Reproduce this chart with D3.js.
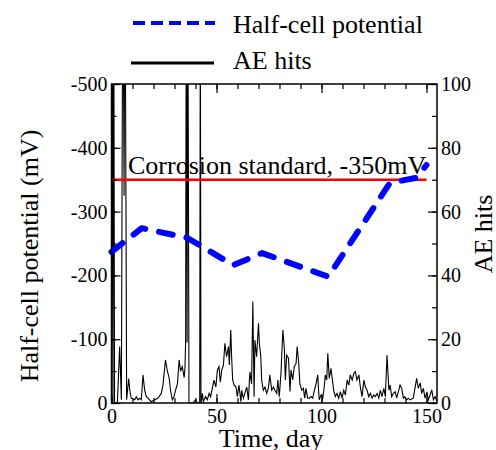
<!DOCTYPE html>
<html>
<head>
<meta charset="utf-8">
<script src="https://cdn.jsdelivr.net/npm/d3@7/dist/d3.min.js"></script>
<style>
  body { margin: 0; background: #fff; }
  text { font-family: "Liberation Serif", "Times New Roman", serif; fill: #000; }
</style>
</head>
<body>
<div id="chart"></div>
<script>
// half-cell potential readings (day, mV)
const potDay = [0, 14.4, 36, 58, 71.7, 103.2, 132.6, 145.3, 150]
const potMv = [-237, -274, -259, -216, -235, -198, -345, -353, -373]

// acoustic emission hits
const aeDay = [0, 0.3, 0.7, 1.0, 1.45, 2.8, 3.9, 4.7, 5.4, 6.0, 6.4, 7.2, 8.2, 8.7, 9.4, 11.1, 11.8, 12.6, 13.5, 14.2,
  15.0, 15.8, 16.6, 17.4, 18.9, 20.6, 22.1, 23.7, 24.5, 25.7, 26.6, 27.4, 28.1, 29.0, 29.8, 30.5, 31.4, 32.2, 32.9, 33.7,
  34.6, 35.0, 35.3, 35.6, 36.0, 36.3, 36.9, 38.8, 40.0, 40.9, 42.0, 42.3, 42.6, 43.3, 43.7, 44.8, 45.6, 46.5, 47.2, 48.0,
  48.8, 49.7, 50.4, 51.2, 51.8, 52.5, 53.3, 54.0, 54.8, 55.7, 56.1, 56.8, 57.2, 57.7, 58.4, 59.3, 59.9, 60.7, 61.6, 62.0,
  62.8, 63.5, 64.4, 65.2, 65.9, 66.7, 67.3, 67.9, 68.3, 69.1, 70.0, 70.4, 71.1, 71.5, 72.3, 73.1, 73.9, 74.7, 75.4, 76.3,
  77.1, 77.8, 78.7, 79.2, 79.9, 80.7, 81.6, 82.3, 82.8, 83.4, 84.3, 85.0, 85.5, 86.3, 87.0, 87.9, 88.4, 89.1, 89.7, 90.6,
  91.4, 92.0, 92.6, 93.4, 94.2, 95.0, 95.8, 96.6, 97.4, 98.2, 98.9, 99.8, 100.6, 101.3, 101.8, 102.5, 103.0, 103.7, 104.5, 105.9,
  106.6, 107.4, 108.2, 109.0, 109.8, 110.6, 111.4, 112.2, 113.0, 113.7, 114.6, 115.4, 116.1, 116.9, 117.8, 118.5, 119.3, 120.2, 120.9, 121.7,
  122.5, 123.3, 124.1, 124.9, 125.6, 126.5, 127.3, 128.0, 128.8, 129.7, 130.4, 131.2, 132.1, 132.7, 133.4, 134.2, 135.1, 135.8, 137.4, 138.2,
  139.0, 139.7, 140.5, 141.4, 142.2, 143.7, 145.3, 146.1, 147.0, 147.7, 148.5, 149.3, 150.2, 150.9, 151.7, 152.5, 153.3, 154.1, 154.9]
const aeHits = [0, 150, 0, 160, 0, 0, 17.7, 1, 145, 65, 155, 1, 7.7, 4, 1.5, 1, 2, 1, 1.5, 1,
  8.8, 4, 2, 1.5, 0.4, 1, 1.5, 3, 5.6, 13.5, 10, 8, 4, 1, 2, 4, 6, 13.5, 10, 11.4,
  8, 11, 19.7, 140, 19, 150, 0, 0, 1, 0, 0, 130, 0, 3, 0.4, 2, 1, 3, 2, 4.6,
  7.2, 5, 10.3, 11.4, 6.5, 10.3, 11.9, 18.7, 14.5, 17.7, 11.9, 22.9, 14.5, 7.2, 5.6, 5, 2, 5.6, 0.4, 4,
  1.5, 3, 5, 1, 9.8, 6, 31.8, 2, 19.7, 14.5, 25, 18.7, 14.5, 7.2, 4, 5, 3, 4.6, 8.8, 4,
  5, 4, 3, 7.2, 2, 9.3, 22.9, 17.1, 7.2, 15, 14, 3.6, 10.3, 7.2, 11.4, 12.4, 17.7, 13, 6, 4,
  4.6, 1.5, 4.6, 1.5, 1.5, 2, 1.5, 4, 6, 8.8, 1, 2.5, 1.5, 5, 8.8, 7.2, 15.6, 7.7, 10.9, 3.6,
  2, 3, 1.5, 3.6, 1.5, 4, 2.5, 7.2, 5.6, 8.8, 7.2, 9.3, 9.8, 7.2, 8.8, 5, 2, 7.2, 5, 4,
  2, 3, 1.5, 2.5, 2, 3, 1.5, 4, 2, 4.6, 2, 15, 4, 5.6, 2, 3, 3.5, 1.5, 5.6, 4.6,
  1.5, 2, 1, 1.5, 1, 1.5, 7.7, 4.6, 6.3, 3, 4.6, 1.5, 3.5, 1, 2.5, 4.1, 1, 2, 0.7]

const standardMv = -350
const standardDays = [0, 150]

const xTicks = [0, 50, 100, 150]
const xMinor = d3.range(0, 151, 10)
const yLeftTicks = [0, -100, -200, -300, -400, -500]
const yLeftMinor = d3.range(0, -501, -50)
const yRightTicks = [0, 20, 40, 60, 80, 100]
const yRightMinor = d3.range(0, 101, 10)

const width = 496
const height = 450
const plotLeft = 111.5
const plotRight = 437
const plotTop = 84
const plotBottom = 403

const svg = d3.select('#chart')
  .append('svg')
  .attr('width', width)
  .attr('height', height)

const x = d3.scaleLinear().domain([0, 155]).range([plotLeft, plotRight])
const yL = d3.scaleLinear().domain([0, -500]).range([plotBottom, plotTop])
const yR = d3.scaleLinear().domain([0, 100]).range([plotBottom, plotTop])

svg.append('clipPath').attr('id', 'plot')
  .append('rect')
  .attr('x', plotLeft).attr('y', plotTop)
  .attr('width', plotRight - plotLeft).attr('height', plotBottom - plotTop)

// AE hits
const aeLine = d3.line().x((d, i) => x(aeDay[i])).y((d) => yR(d))
svg.append('path')
  .attr('clip-path', 'url(#plot)')
  .attr('d', aeLine(aeHits))
  .attr('fill', 'none')
  .attr('stroke', '#000')
  .attr('stroke-width', 1.1)

// corrosion standard line
svg.append('line')
  .attr('x1', x(standardDays[0])).attr('x2', x(standardDays[1]))
  .attr('y1', yL(standardMv)).attr('y2', yL(standardMv))
  .attr('stroke', '#ff0000')
  .attr('stroke-width', 2.5)

svg.append('text')
  .attr('x', 128)
  .attr('y', 174)
  .style('font-size', '26px')
  .text('Corrosion standard, -350mV')

// half-cell potential
const potLine = d3.line().x((d, i) => x(potDay[i])).y((d) => yL(d))
svg.append('path')
  .attr('d', potLine(potMv))
  .attr('fill', 'none')
  .attr('stroke', '#0000ff')
  .attr('stroke-width', 6)
  .attr('stroke-linecap', 'round')
  .attr('stroke-linejoin', 'round')
  .attr('stroke-dasharray', '14,14')

// frame
svg.append('rect')
  .attr('x', plotLeft).attr('y', plotTop)
  .attr('width', plotRight - plotLeft).attr('height', plotBottom - plotTop)
  .attr('fill', 'none')
  .attr('stroke', '#000')
  .attr('stroke-width', 1.5)

const styleAxis = (g) => {
  g.select('.domain').remove()
  g.selectAll('line').attr('stroke', '#000').attr('stroke-width', 1.2)
  g.selectAll('text').style('font-size', '20px').attr('font-family', null)
}

// minor ticks
svg.append('g').attr('transform', `translate(0,${plotBottom})`)
  .call(d3.axisBottom(x).tickValues(xMinor).tickSize(-5).tickFormat(''))
  .call(styleAxis)
svg.append('g').attr('transform', `translate(0,${plotTop})`)
  .call(d3.axisTop(x).tickValues(xMinor).tickSize(-5).tickFormat(''))
  .call(styleAxis)
svg.append('g').attr('transform', `translate(${plotLeft},0)`)
  .call(d3.axisLeft(yL).tickValues(yLeftMinor).tickSize(-5).tickFormat(''))
  .call(styleAxis)
svg.append('g').attr('transform', `translate(${plotRight},0)`)
  .call(d3.axisRight(yR).tickValues(yRightMinor).tickSize(-5).tickFormat(''))
  .call(styleAxis)

// major ticks and labels
svg.append('g').attr('transform', `translate(0,${plotBottom})`)
  .call(d3.axisBottom(x).tickValues(xTicks).tickSize(-9).tickPadding(6).tickFormat((d) => String(d)))
  .call(styleAxis)
svg.append('g').attr('transform', `translate(0,${plotTop})`)
  .call(d3.axisTop(x).tickValues(xTicks).tickSize(-9).tickFormat(''))
  .call(styleAxis)
svg.append('g').attr('transform', `translate(${plotLeft},0)`)
  .call(d3.axisLeft(yL).tickValues(yLeftTicks).tickSize(-9).tickPadding(4).tickFormat((d) => String(d)))
  .call(styleAxis)
svg.append('g').attr('transform', `translate(${plotRight},0)`)
  .call(d3.axisRight(yR).tickValues(yRightTicks).tickSize(-9).tickPadding(4).tickFormat((d) => String(d)))
  .call(styleAxis)

// axis titles
svg.append('text')
  .attr('transform', 'translate(38,256) rotate(-90)')
  .attr('text-anchor', 'middle')
  .style('font-size', '26px')
  .text('Half-cell potential (mV)')
svg.append('text')
  .attr('transform', 'translate(492,234) rotate(-90)')
  .attr('text-anchor', 'middle')
  .style('font-size', '26px')
  .text('AE hits')
svg.append('text')
  .attr('x', 271)
  .attr('y', 447)
  .attr('text-anchor', 'middle')
  .style('font-size', '26px')
  .text('Time, day')

// legend
const legend = svg.append('g')
legend.append('line')
  .attr('x1', 133).attr('x2', 215).attr('y1', 23).attr('y2', 23)
  .attr('stroke', '#0000ff').attr('stroke-width', 4)
  .attr('stroke-dasharray', '12,6')
legend.append('text')
  .attr('x', 233).attr('y', 33)
  .style('font-size', '26px')
  .text('Half-cell potential')
legend.append('line')
  .attr('x1', 131).attr('x2', 214).attr('y1', 63).attr('y2', 63)
  .attr('stroke', '#000').attr('stroke-width', 3)
legend.append('text')
  .attr('x', 233).attr('y', 69)
  .style('font-size', '26px')
  .text('AE hits')
</script>
</body>
</html>
